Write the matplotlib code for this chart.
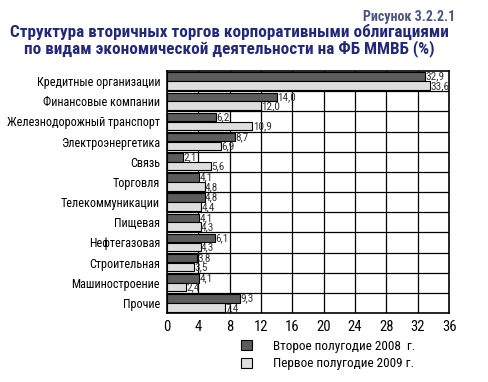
import matplotlib
matplotlib.use("Agg")
import matplotlib.pyplot as plt
import numpy as np
from matplotlib.patches import Patch

plt.rcParams['font.family'] = ['Roboto Condensed', 'DejaVu Sans']

categories = ["Кредитные организации", "Финансовые компании", "Железнодорожный транспорт",
              "Электроэнергетика", "Связь", "Торговля", "Телекоммуникации", "Пищевая",
              "Нефтегазовая", "Строительная", "Машиностроение", "Прочие"]
h2_2008 = [32.9, 14.0, 6.2, 8.7, 2.1, 4.1, 4.8, 4.1, 6.1, 3.8, 4.1, 9.3]
h1_2009 = [33.6, 12.0, 10.9, 6.9, 5.6, 4.8, 4.4, 4.3, 4.3, 3.5, 2.4, 7.4]
series_names = ["Второе полугодие 2008  г.", "Первое полугодие 2009 г."]
xticks = [0, 4, 8, 12, 16, 20, 24, 28, 32, 36]

fig = plt.figure(figsize=(4.89, 3.82), dpi=100)
ax = fig.add_axes([0.3415, 0.1806, 0.577, 0.6335])

y = np.arange(len(categories))
off = 0.22
hgt = 0.42
dark = "#5c5c5c"
light = "#dedede"
ax.barh(y - off, h2_2008, height=hgt, color=dark, edgecolor="black", linewidth=0.8, zorder=3)
ax.barh(y + off, h1_2009, height=hgt, color=light, edgecolor="black", linewidth=0.8, zorder=3)

def fmt(v):
    return f"{v:.1f}".replace(".", ",")

for yi, v in zip(y, h2_2008):
    ax.text(v + 0.05, yi - off, fmt(v), va="center", ha="left", fontsize=8,
            color="#333333", zorder=4)
for yi, v in zip(y, h1_2009):
    ax.text(v + 0.05, yi + off + 0.02, fmt(v), va="center", ha="left", fontsize=8,
            color="#333333", zorder=4)

ax.set_xlim(0, 36)
ax.set_ylim(len(categories) - 0.5, -0.5)
ax.set_xticks(xticks)
ax.set_xticklabels([str(t) for t in xticks], fontsize=10.5)
ax.set_yticks(y)
ax.set_yticklabels(categories, fontsize=8.7)
ax.tick_params(axis="y", length=0, pad=5)
ax.tick_params(axis="x", length=0, pad=5)
for xt in xticks[1:-1]:
    ax.axvline(xt, color="black", linewidth=0.9, zorder=1)
for b in np.arange(0.5, len(categories) - 0.5, 1):
    ax.axhline(b, color="black", linewidth=0.9, zorder=1)
for s in ax.spines.values():
    s.set_linewidth(1.2)

handles = [Patch(facecolor=dark, edgecolor="black", linewidth=0.8),
           Patch(facecolor=light, edgecolor="black", linewidth=0.8)]
fig.legend(handles, series_names, loc="upper left", bbox_to_anchor=(0.483, 0.125),
           frameon=False, fontsize=9.5, handlelength=0.8, handleheight=0.8,
           handletextpad=1.6, labelspacing=0.35, borderaxespad=0)

title_color = "#22287a"
fig.text(0.93, 0.975, "Рисунок 3.2.2.1", ha="right", va="top", fontsize=10,
         fontweight="bold", color="#4a5680")
fig.text(0.469, 0.917, "Структура вторичных торгов корпоративными облигациями",
         ha="center", va="center", fontsize=12.3, fontweight="bold", color=title_color)
fig.text(0.469, 0.873, "по видам экономической деятельности на ФБ ММВБ (%)",
         ha="center", va="center", fontsize=12.3, fontweight="bold", color=title_color)

fig.savefig("out.png", dpi=100)
